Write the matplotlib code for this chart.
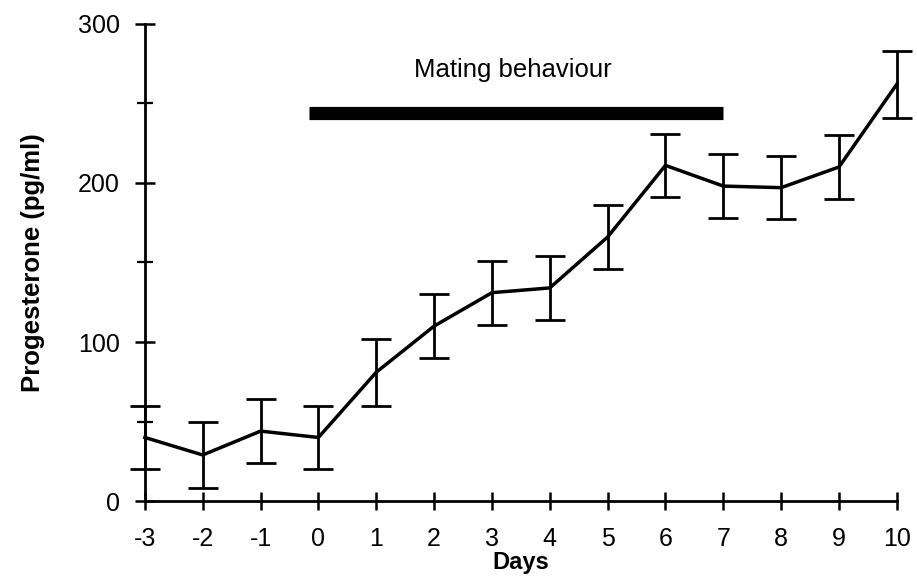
import matplotlib.pyplot as plt
import numpy as np

plt.rcParams['font.family'] = ['Liberation Sans', 'DejaVu Sans']

days = [-3, -2, -1, 0, 1, 2, 3, 4, 5, 6, 7, 8, 9, 10]
progesterone = [40, 29, 44, 40, 81, 110, 131, 134, 166, 211, 198, 197, 210, 262]
sem = [20, 21, 20, 20, 21, 20, 20, 20, 20, 20, 20, 20, 20, 21]

# period of mating behaviour (days) and height of the bar (pg/ml)
mating_start, mating_end = -0.17, 7
mating_level = 244

fig = plt.figure(figsize=(9.17, 5.8), dpi=100)
ax = fig.add_axes([0.158, 0.136, 0.820, 0.823])

ax.errorbar(days, progesterone, yerr=sem, color='black', linewidth=2.5,
            elinewidth=2, capsize=11, capthick=2, clip_on=False, zorder=3)

ax.plot([mating_start, mating_end], [mating_level, mating_level],
        color='black', linewidth=9.5, solid_capstyle='butt')
ax.text((mating_start + mating_end) / 2 - 0.05, 271, 'Mating behaviour',
        ha='center', va='center', fontsize=18.5)

ax.set_xlim(-3, 10)
ax.set_ylim(0, 300)
ax.set_xticks(days)
ax.set_xticklabels([str(d) for d in days])
ax.set_yticks([0, 100, 200, 300])
ax.set_yticks([50, 150, 250], minor=True)

for side in ['top', 'right']:
    ax.spines[side].set_visible(False)
for side in ['left', 'bottom']:
    ax.spines[side].set_linewidth(2)

ax.tick_params(axis='x', direction='inout', length=13, width=1.8,
               labelsize=18, pad=12)
ax.tick_params(axis='y', which='major', direction='inout', length=14, width=1.8,
               labelsize=18, pad=11)
ax.tick_params(axis='y', which='minor', direction='inout', length=11, width=1.6)

ax.set_xlabel('Days', fontsize=17, fontweight='bold', labelpad=0)
ax.set_ylabel('Progesterone (pg/ml)', fontsize=18.5, fontweight='bold', labelpad=24)

fig.savefig('out.png', dpi=100)
